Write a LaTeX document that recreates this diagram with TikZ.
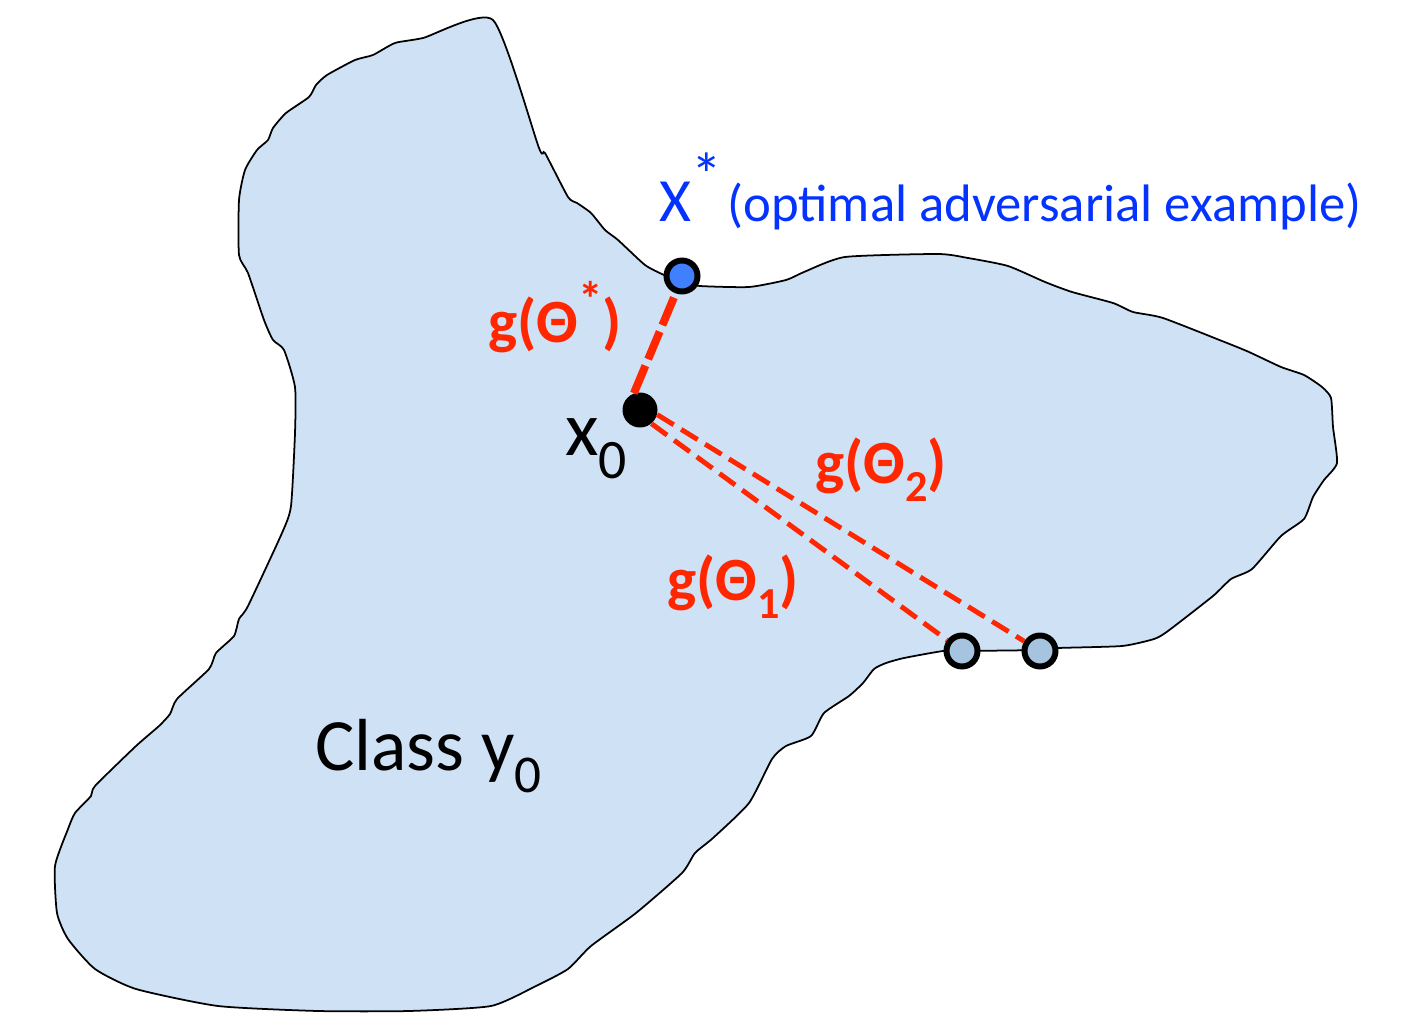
\documentclass[tikz,border=0pt]{standalone}
\usepackage{fontspec}
\setmainfont{Carlito}
\usepackage{graphicx}
\definecolor{regionfill}{RGB}{207,225,245}
\definecolor{dashred}{RGB}{255,38,0}
\definecolor{labelblue}{RGB}{4,51,255}
\definecolor{optfill}{RGB}{64,128,255}
\definecolor{otherfill}{RGB}{166,196,224}
\newcommand\mysub[1]{\raisebox{-0.3em}{\scalebox{0.72}{#1}}}
\newcommand\mysup[1]{\raisebox{0.42em}{\scalebox{0.8}{#1}}}
\newcommand\bigsup[1]{\raisebox{0.42em}{\scalebox{1.0}{#1}}}
\begin{document}
\begin{tikzpicture}[x=0.02cm,y=-0.02cm,
  region/.style={fill=regionfill, draw=black, line width=1pt},
  ptbound/.style={circle, draw=black, line width=3.4pt, minimum size=0.62cm, inner sep=0pt},
  ptorig/.style={circle, fill=black, minimum size=0.7cm, inner sep=0pt},
  thickdash/.style={draw=dashred, line width=4.5pt, dash pattern=on 17pt off 4pt},
  thindash/.style={draw=dashred, line width=2.8pt, dash pattern=on 11pt off 5pt},
  lbl/.style={inner sep=0pt, anchor=base west},
  redlbl/.style={lbl, text=dashred, font=\fontsize{35pt}{42pt}\selectfont\bfseries},
]
\useasboundingbox (0,0) rectangle (1426,1013);
\draw[region] plot[smooth cycle, tension=0.35] coordinates {
(493,20) (539,148) (545,153) (568,197) (577,203) (591,213) (605,230) (618,240) (645,265) (664,275) (682,282) (700,286) (749,287) (786,280) (804,272) (845,257) (938,254) (968,258) (1008,266) (1045,282) (1072,292) (1113,303) (1133,312) (1163,318) (1227,343) (1249,352) (1281,367) (1304,375) (1322,387) (1331,398) (1333,427) (1337,463) (1324,480) (1313,497) (1304,519) (1281,536) (1252,569) (1231,579) (1213,596) (1168,631) (1154,639) (1122,646) (1058,648) (1040,650) (962,651) (943,651) (904,658) (886,663) (874,669) (863,683) (849,696) (824,713) (811,736) (786,746) (772,759) (749,803) (713,838) (695,853) (682,873) (636,913) (591,946) (568,969) (536,986) (491,1006) (409,1011) (318,1011) (218,1006) (136,989) (95,969) (68,939) (57,913) (55,866) (68,829) (75,813) (91,796) (95,786) (136,746) (159,726) (170,714) (177,699) (209,669) (216,653) (234,636) (239,619) (248,606) (282,533) (291,506) (295,433) (295,387) (284,350) (273,340) (264,320) (248,273) (239,255) (239,200) (245,170) (257,150) (268,140) (273,128) (286,113) (309,97) (316,85) (327,75) (355,60) (373,55) (395,43) (423,38)};

\node[ptbound, fill=optfill] (xs) at (682,276) {};
\node[ptbound, fill=otherfill] (c1) at (962,651) {};
\node[ptbound, fill=otherfill] (c2) at (1040,651) {};
\node[ptorig] (x0) at (640,410) {};

\draw[thickdash] (x0.110) -- (xs.-110);
\draw[thindash] (x0.-50) -- (c1);
\draw[thindash] (x0.-15) -- (c2);

\node[lbl, text=labelblue, font=\fontsize{35pt}{42pt}\selectfont] (xslbl) at (659,222) {X\bigsup{*}};
\node[lbl, text=labelblue, font=\fontsize{30pt}{36pt}\selectfont] (xsnote) at (727,222) {(optimal adversarial example)};
\node[redlbl] (gstar) at (488,342) {g(Θ\mysup{*})};
\node[redlbl] (g2) at (815,483) {g(Θ\mysub{2})};
\node[redlbl] (g1) at (667,600) {g(Θ\mysub{1})};
\node[lbl, font=\fontsize{44pt}{52pt}\selectfont] (x0lbl) at (565,455) {x\mysub{0}};
\node[lbl, font=\fontsize{42pt}{50pt}\selectfont] (cls) at (315,770) {Class y\mysub{0}};
\end{tikzpicture}
\end{document}
